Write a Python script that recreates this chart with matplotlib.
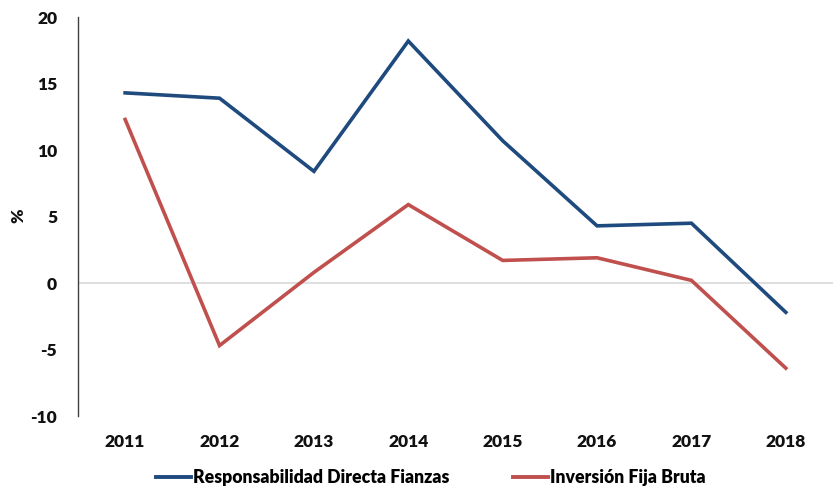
import matplotlib
matplotlib.use("Agg")
import matplotlib.pyplot as plt
from matplotlib.lines import Line2D

plt.rcParams["axes.unicode_minus"] = False

years = ["2011", "2012", "2013", "2014", "2015", "2016", "2017", "2018"]
resp_fianzas = [14.3, 13.9, 8.4, 18.2, 10.7, 4.3, 4.5, -2.2]
inv_fija = [12.3, -4.7, 0.8, 5.9, 1.7, 1.9, 0.2, -6.4]

BLUE = "#1f4a7e"
RED = "#c0504d"
FONT = "Lato"

fig = plt.figure(figsize=(8.33, 4.88), dpi=100)
ax = fig.add_axes([0.0936, 0.1475, 0.9064, 0.8175])

x = range(len(years))
ax.axhline(0, color="#d9d9d9", lw=1.2, zorder=1)
ax.plot(x, resp_fianzas, color=BLUE, lw=2.6, zorder=3,
        solid_joinstyle="miter", label="Responsabilidad Directa Fianzas")
ax.plot(x, inv_fija, color=RED, lw=2.6, zorder=3,
        solid_joinstyle="miter", label="Inversión Fija Bruta")

ax.set_xlim(-0.5, len(years) - 0.5)
ax.set_ylim(-10, 20)
ax.set_yticks(range(-10, 21, 5))
ax.set_xticks(list(x))
ax.set_xticklabels(years)

for s in ["top", "right", "bottom"]:
    ax.spines[s].set_visible(False)
ax.spines["left"].set_color("#404040")
ax.spines["left"].set_linewidth(1.0)

ax.tick_params(axis="y", length=0, pad=15)
ax.tick_params(axis="x", length=0, pad=13)
for lab in ax.get_xticklabels() + ax.get_yticklabels():
    lab.set_fontfamily(FONT)
    lab.set_fontweight("heavy")
    lab.set_fontsize(12.5)
    lab.set_color("#111111")

fig.text(18 / 833, 1 - 216 / 488, "%", rotation=90, ha="center", va="center",
         fontfamily=FONT, fontweight="heavy", fontsize=12.5, color="#111111")

handles = [Line2D([0], [0], color=BLUE, lw=2.8),
           Line2D([0], [0], color=RED, lw=2.8)]
fig.legend(handles, ["Responsabilidad Directa Fianzas", "Inversión Fija Bruta"],
           loc="center", bbox_to_anchor=(0.517, 0.022), ncol=2, frameon=False,
           handlelength=2.0, handletextpad=0.1, columnspacing=3.6,
           prop={"family": FONT, "weight": "heavy", "size": 12.7})

fig.savefig("out.png", dpi=100, facecolor="white")
